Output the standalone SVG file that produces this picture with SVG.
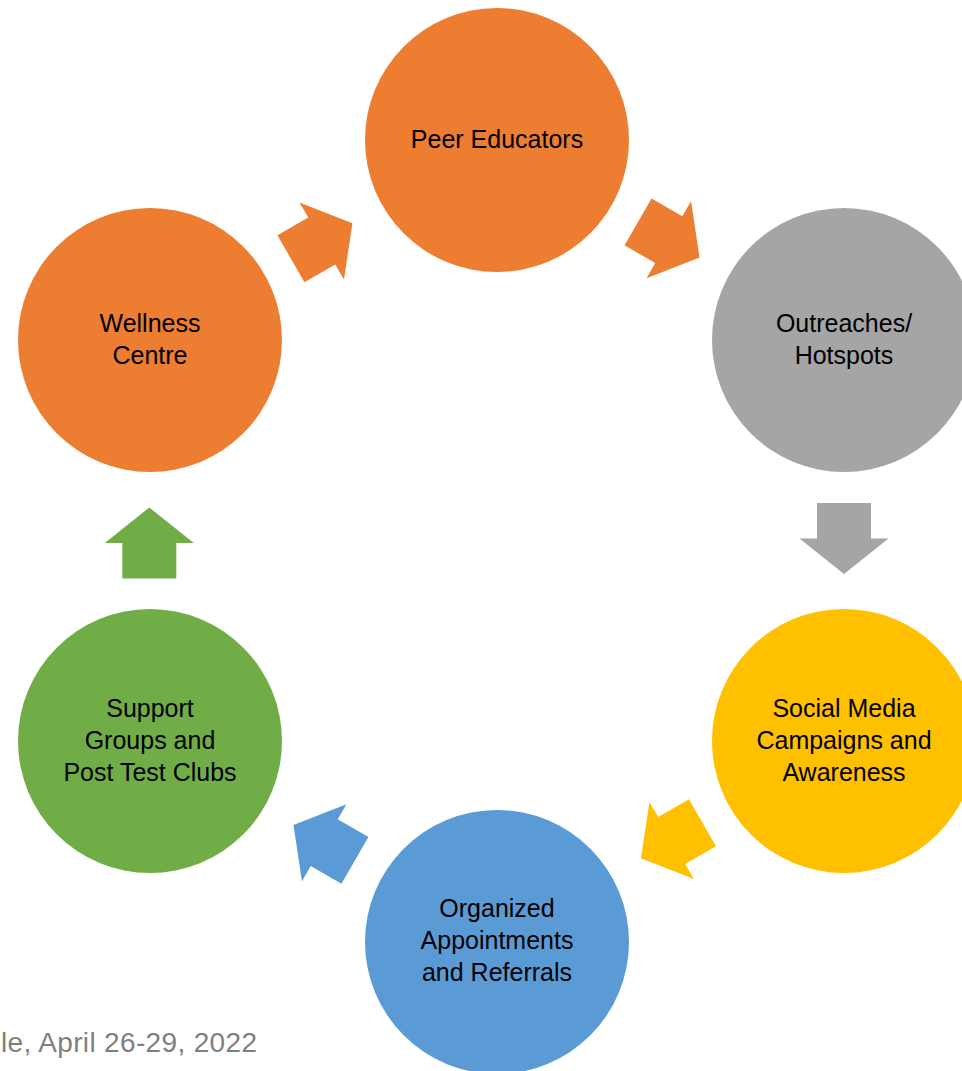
<svg xmlns="http://www.w3.org/2000/svg" xmlns:xlink="http://www.w3.org/1999/xlink" width="962" height="1071" viewBox="0 0 962 1071">
<style>
.lbl{font-family:"Liberation Sans",Arial,sans-serif;font-size:25px;fill:#000;text-anchor:middle}
.foot{font-family:"Liberation Sans",Arial,sans-serif;font-size:28px;fill:#7f7f7f;text-anchor:end}
</style>
<defs>
<polygon id="arr" points="-35.5,-27 0,-27 0,-44.5 35.5,0 0,44.5 0,27 -35.5,27"/>
</defs>
<rect width="962" height="1071" fill="#fff"/>
<g id="connectors">
<use xlink:href="#arr" fill="#ED7D31" transform="translate(321.7,241) rotate(-30)"/>
<use xlink:href="#arr" fill="#ED7D31" transform="translate(668.8,239.7) rotate(30)"/>
<use xlink:href="#arr" fill="#A5A5A5" transform="translate(844,538.5) rotate(90)"/>
<use xlink:href="#arr" fill="#FFC000" transform="translate(671.7,840.5) rotate(150)"/>
<use xlink:href="#arr" fill="#5B9BD5" transform="translate(324.2,842.7) rotate(210)"/>
<use xlink:href="#arr" fill="#70AD47" transform="translate(149.3,543) rotate(-90)"/>
</g>
<g id="peer">
<circle cx="497" cy="140" r="132" fill="#ED7D31"/>
<text class="lbl" x="497" y="148">Peer Educators</text>
</g>
<g id="outreaches">
<circle cx="844" cy="340" r="132" fill="#A5A5A5"/>
<text class="lbl" x="844" y="332">Outreaches/</text>
<text class="lbl" x="844" y="364">Hotspots</text>
</g>
<g id="social">
<circle cx="844" cy="741" r="132" fill="#FFC000"/>
<text class="lbl" x="844" y="717">Social Media</text>
<text class="lbl" x="844" y="749">Campaigns and</text>
<text class="lbl" x="844" y="781">Awareness</text>
</g>
<g id="organized">
<circle cx="497" cy="942" r="132" fill="#5B9BD5"/>
<text class="lbl" x="497" y="917">Organized</text>
<text class="lbl" x="497" y="949">Appointments</text>
<text class="lbl" x="497" y="981">and Referrals</text>
</g>
<g id="support">
<circle cx="150" cy="741" r="132" fill="#70AD47"/>
<text class="lbl" x="150" y="717">Support</text>
<text class="lbl" x="150" y="749">Groups and</text>
<text class="lbl" x="150" y="781">Post Test Clubs</text>
</g>
<g id="wellness">
<circle cx="150" cy="340" r="132" fill="#ED7D31"/>
<text class="lbl" x="150" y="332">Wellness</text>
<text class="lbl" x="150" y="364">Centre</text>
</g>
<text class="foot" x="257" y="1052" textLength="256" lengthAdjust="spacing">le, April 26-29, 2022</text>
</svg>
